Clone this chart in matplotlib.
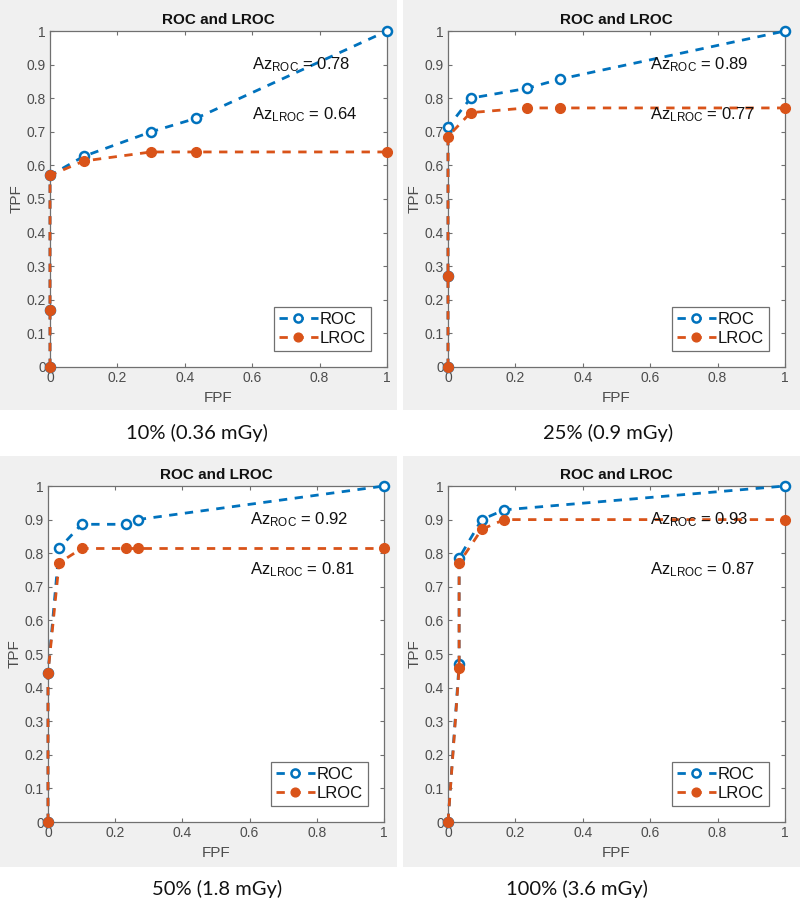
import matplotlib
matplotlib.use("Agg")
import matplotlib.pyplot as plt
from matplotlib.patches import Rectangle

plt.rcParams['font.family'] = ['Liberation Sans', 'DejaVu Sans']
plt.rcParams['mathtext.fontset'] = 'custom'
plt.rcParams['mathtext.rm'] = 'Liberation Sans'
plt.rcParams['mathtext.it'] = 'Liberation Sans'

# ---- data ----
captions = ["10% (0.36 mGy)", "25% (0.9 mGy)", "50% (1.8 mGy)", "100% (3.6 mGy)"]
az_roc = [0.78, 0.89, 0.92, 0.93]
az_lroc = [0.64, 0.77, 0.81, 0.87]

fpf_roc_10 = [0, 0, 0, 0.1, 0.3, 0.433, 1]
tpf_roc_10 = [0, 0.17, 0.57, 0.627, 0.70, 0.74, 1]
fpf_lroc_10 = [0, 0, 0, 0.1, 0.3, 0.433, 1]
tpf_lroc_10 = [0, 0.17, 0.57, 0.613, 0.64, 0.64, 0.64]

fpf_roc_25 = [0, 0, 0, 0.067, 0.233, 0.333, 1]
tpf_roc_25 = [0, 0.27, 0.714, 0.80, 0.829, 0.857, 1]
fpf_lroc_25 = [0, 0, 0, 0.067, 0.233, 0.333, 1]
tpf_lroc_25 = [0, 0.27, 0.686, 0.757, 0.771, 0.771, 0.771]

fpf_roc_50 = [0, 0, 0.033, 0.1, 0.233, 0.267, 1]
tpf_roc_50 = [0, 0.443, 0.814, 0.886, 0.886, 0.9, 1]
fpf_lroc_50 = [0, 0, 0.033, 0.1, 0.233, 0.267, 1]
tpf_lroc_50 = [0, 0.443, 0.771, 0.814, 0.814, 0.814, 0.814]

fpf_roc_100 = [0, 0.033, 0.033, 0.1, 0.167, 1]
tpf_roc_100 = [0, 0.471, 0.786, 0.9, 0.929, 1]
fpf_lroc_100 = [0, 0.033, 0.033, 0.1, 0.167, 1]
tpf_lroc_100 = [0, 0.457, 0.771, 0.871, 0.9, 0.9]

xticks = [0, 0.2, 0.4, 0.6, 0.8, 1]
xticklabels = ["0", "0.2", "0.4", "0.6", "0.8", "1"]
yticks = [0, 0.1, 0.2, 0.3, 0.4, 0.5, 0.6, 0.7, 0.8, 0.9, 1]
yticklabels = ["0", "0.1", "0.2", "0.3", "0.4", "0.5", "0.6", "0.7", "0.8", "0.9", "1"]

series = [
    (fpf_roc_10, tpf_roc_10, fpf_lroc_10, tpf_lroc_10),
    (fpf_roc_25, tpf_roc_25, fpf_lroc_25, tpf_lroc_25),
    (fpf_roc_50, tpf_roc_50, fpf_lroc_50, tpf_lroc_50),
    (fpf_roc_100, tpf_roc_100, fpf_lroc_100, tpf_lroc_100),
]

# ---- layout (pixels, top origin) ----
W, H = 800, 901
fig = plt.figure(figsize=(W / 100, H / 100), dpi=100, facecolor='white')

gray_boxes = [(0, 0, 397, 410), (403, 0, 800, 410), (0, 456, 397, 867), (403, 456, 800, 867)]
axes_boxes = [(50, 31, 387, 367), (448, 31, 785, 367), (48, 486, 384, 822), (448, 486, 785, 822)]
caption_pos = [(197, 433), (608, 433), (217, 889), (577, 889)]

BLUE = '#0072BD'
ORANGE = '#D95319'
AXC = '#707070'
TXC = '#4d4d4d'

for (x0, y0, x1, y1) in gray_boxes:
    fig.patches.append(Rectangle((x0 / W, 1 - y1 / H), (x1 - x0) / W, (y1 - y0) / H,
                                 transform=fig.transFigure, facecolor='#f0f0f0',
                                 edgecolor='none', zorder=-5))

for i, (ab, s) in enumerate(zip(axes_boxes, series)):
    x0, y0, x1, y1 = ab
    ax = fig.add_axes([x0 / W, 1 - y1 / H, (x1 - x0) / W, (y1 - y0) / H])
    ax.set_facecolor('white')
    fr, tr, fl, tl = s
    ax.plot(fr, tr, linestyle='--', color=BLUE, linewidth=2.0, dashes=(3.0, 2.7),
            marker='o', markersize=6.5, markerfacecolor='white', markeredgecolor=BLUE,
            markeredgewidth=1.8, label='ROC', clip_on=False, zorder=3)
    ax.plot(fl, tl, linestyle='--', color=ORANGE, linewidth=2.0, dashes=(3.0, 2.7),
            marker='o', markersize=7, markerfacecolor=ORANGE, markeredgecolor=ORANGE,
            label='LROC', clip_on=False, zorder=4)
    ax.set_xlim(0, 1)
    ax.set_ylim(0, 1)
    ax.set_xticks(xticks)
    ax.set_xticklabels(xticklabels)
    ax.set_yticks(yticks)
    ax.set_yticklabels(yticklabels)
    ax.tick_params(direction='in', length=3, width=0.8, colors=AXC, labelcolor=TXC,
                   labelsize=10, top=True, right=True, pad=3)
    for sp in ax.spines.values():
        sp.set_color(AXC)
        sp.set_linewidth(0.9)
    ax.set_xlabel('FPF', fontsize=11, color=TXC, labelpad=4)
    ax.set_ylabel('TPF', fontsize=11, color=TXC, labelpad=2)
    ax.set_title('ROC and LROC', fontsize=11, fontweight='bold', color='#111111', pad=5)
    ax.text(0.6, 0.9, r'Az$_{\mathrm{ROC}}$ = %.2f' % az_roc[i], fontsize=12,
            color='#111111', va='center', ha='left', zorder=5)
    ax.text(0.6, 0.75, r'Az$_{\mathrm{LROC}}$ = %.2f' % az_lroc[i], fontsize=12,
            color='#111111', va='center', ha='left', zorder=5)
    leg = ax.legend(loc='lower right', fontsize=12, handlelength=2.3, handletextpad=0.15,
                    borderpad=0.3, labelspacing=0.25, fancybox=False, framealpha=1,
                    edgecolor=AXC, borderaxespad=0.95, markerscale=0.9)
    leg.get_frame().set_linewidth(0.9)
    for t in leg.get_texts():
        t.set_color('#111111')

for cap, (cx, cy) in zip(captions, caption_pos):
    fig.text(cx / W, 1 - cy / H, cap, fontsize=14.5, ha='center', va='center',
             family=['Lato', 'DejaVu Sans'], color='#111111')

fig.savefig('out.png', dpi=100, facecolor='white')
